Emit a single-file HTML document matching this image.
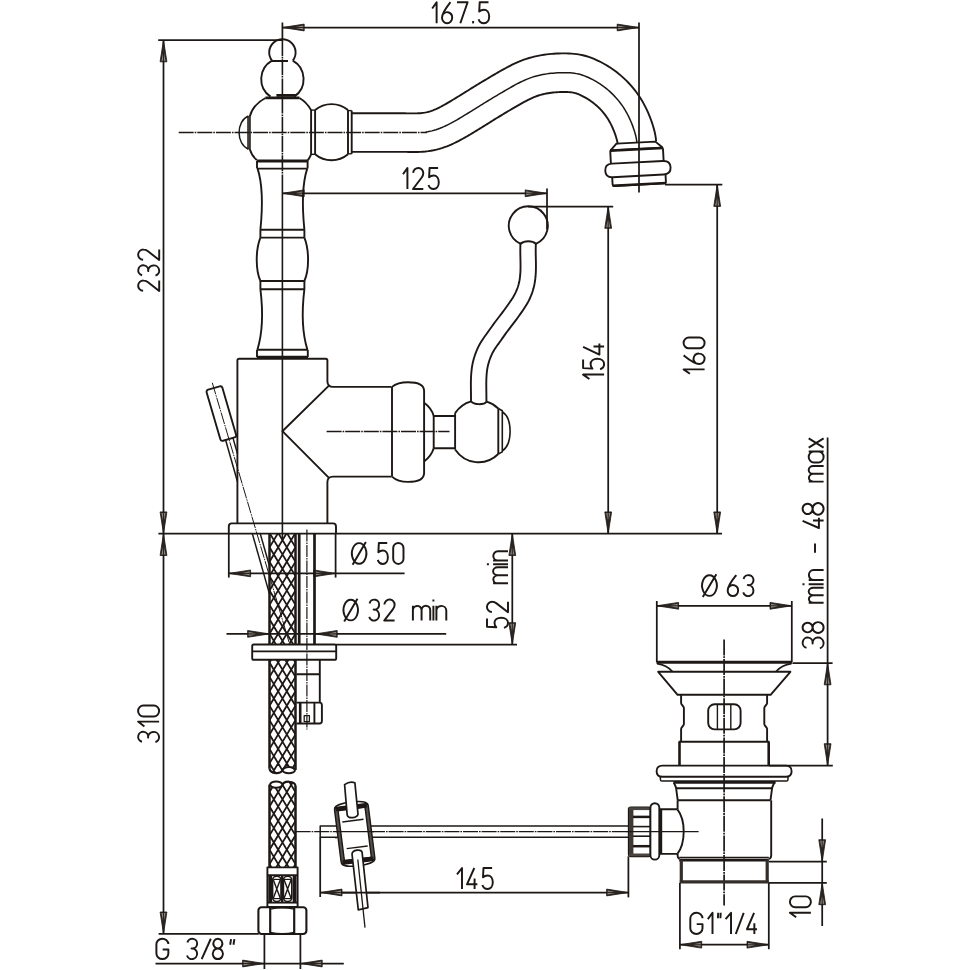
<!DOCTYPE html>
<html>
<head>
<meta charset="utf-8">
<title>Faucet dimensions</title>
<style>
html,body{margin:0;padding:0;background:#ffffff;}
body{width:970px;height:970px;overflow:hidden;font-family:"Liberation Sans",sans-serif;}
svg{display:block;}
</style>
</head>
<body>
<svg width="970" height="970" viewBox="0 0 970 970">
<rect x="0" y="0" width="970" height="970" fill="#ffffff"/>
<g fill="none" stroke="#1d1815" stroke-linecap="butt" stroke-linejoin="round">
<path d="M282.4,22.5 L282.4,40" stroke-width="1.75" />
<path d="M282.4,27.5 L639,27.5" stroke-width="1.75" />
<path d="M639,22.5 L639,192.5" stroke-width="1.75" />
<polygon points="282.4,27.5 304.2,24.1 304.2,30.9" fill="#2b2521" stroke="#1d1815" stroke-width="0.8" stroke-linejoin="miter"/>
<polygon points="303.2,29.54 303.2,28.04 295.92,28" fill="#8d8781" stroke="none"/>
<polygon points="303.2,25.46 303.2,26.96 295.92,27" fill="#8d8781" stroke="none"/>
<polygon points="639,27.5 617.2,30.9 617.2,24.1" fill="#2b2521" stroke="#1d1815" stroke-width="0.8" stroke-linejoin="miter"/>
<polygon points="618.2,25.46 618.2,26.96 625.48,27" fill="#8d8781" stroke="none"/>
<polygon points="618.2,29.54 618.2,28.04 625.48,28" fill="#8d8781" stroke="none"/>
<g stroke-width="1.95" stroke-linecap="butt"><path transform="translate(432.2,23.2) scale(0.92,1) translate(0,-21)" d="M0,6.3 L4.8,0 L4.8,21" vector-effect="non-scaling-stroke"/><path transform="translate(442,23.2) scale(0.97,1) translate(0,-21)" d="M8.7,0 C6,3.4 0,10.2 0,15.6 A5.25,5.4 0 0 0 10.5,15.6 A5.25,5.4 0 0 0 1.1,12.1" vector-effect="non-scaling-stroke"/><path transform="translate(457,23.2) scale(1.01,1) translate(0,-21)" d="M0,0 L10.5,0 L3.3,21" vector-effect="non-scaling-stroke"/><path transform="translate(472.2,23.2) scale(1,1) translate(0,-21)" d="M0.9,18.8 L0.9,21.2" vector-effect="non-scaling-stroke"/><path transform="translate(478.6,23.2) scale(1.01,1) translate(0,-21)" d="M9.8,0 L1.1,0 L0.6,9.3 C1.8,8.1 3.5,7.5 5.25,7.5 C8.3,7.5 10.5,10.3 10.5,14.3 C10.5,18.3 8.3,21 5.25,21 C2.8,21 0.8,19.6 0,17" vector-effect="non-scaling-stroke"/></g>
<path d="M158.2,40 L282.4,40" stroke-width="1.75" />
<path d="M163.5,40 L163.5,533.7" stroke-width="1.75" />
<polygon points="163.5,40 166.9,61.8 160.1,61.8" fill="#2b2521" stroke="#1d1815" stroke-width="0.8" stroke-linejoin="miter"/>
<polygon points="161.46,60.8 162.96,60.8 163,53.52" fill="#8d8781" stroke="none"/>
<polygon points="165.54,60.8 164.04,60.8 164,53.52" fill="#8d8781" stroke="none"/>
<polygon points="163.5,533.7 160.1,511.9 166.9,511.9" fill="#2b2521" stroke="#1d1815" stroke-width="0.8" stroke-linejoin="miter"/>
<polygon points="165.54,512.9 164.04,512.9 164,520.18" fill="#8d8781" stroke="none"/>
<polygon points="161.46,512.9 162.96,512.9 163,520.18" fill="#8d8781" stroke="none"/>
<g stroke-width="1.95" stroke-linecap="butt"><path transform="translate(159.2,291) rotate(-90) scale(1,1) translate(0,-21)" d="M0.2,4.9 A5.15,5.15 0 0 1 10.5,5.3 C10.5,7 9.9,8.2 8.9,9.5 L0,21 L10.5,21" vector-effect="non-scaling-stroke"/><path transform="translate(159.2,275.6) rotate(-90) scale(1,1) translate(0,-21)" d="M0.4,3.9 A5.0,5.0 0 1 1 4.6,10.0 L5.3,10.0 A5.25,5.5 0 1 1 0,17.3" vector-effect="non-scaling-stroke"/><path transform="translate(159.2,260) rotate(-90) scale(1,1) translate(0,-21)" d="M0.2,4.9 A5.15,5.15 0 0 1 10.5,5.3 C10.5,7 9.9,8.2 8.9,9.5 L0,21 L10.5,21" vector-effect="non-scaling-stroke"/></g>
<path d="M282.4,193.3 L547,193.3" stroke-width="1.75" />
<path d="M547,188.5 L547,229.5" stroke-width="1.75" />
<polygon points="282.4,193.3 304.2,189.9 304.2,196.7" fill="#2b2521" stroke="#1d1815" stroke-width="0.8" stroke-linejoin="miter"/>
<polygon points="303.2,195.34 303.2,193.84 295.92,193.8" fill="#8d8781" stroke="none"/>
<polygon points="303.2,191.26 303.2,192.76 295.92,192.8" fill="#8d8781" stroke="none"/>
<polygon points="547,193.3 525.2,196.7 525.2,189.9" fill="#2b2521" stroke="#1d1815" stroke-width="0.8" stroke-linejoin="miter"/>
<polygon points="526.2,191.26 526.2,192.76 533.48,192.8" fill="#8d8781" stroke="none"/>
<polygon points="526.2,195.34 526.2,193.84 533.48,193.8" fill="#8d8781" stroke="none"/>
<g stroke-width="1.95" stroke-linecap="butt"><path transform="translate(403,189) scale(0.92,1) translate(0,-21)" d="M0,6.3 L4.8,0 L4.8,21" vector-effect="non-scaling-stroke"/><path transform="translate(413,189) scale(0.98,1) translate(0,-21)" d="M0.2,4.9 A5.15,5.15 0 0 1 10.5,5.3 C10.5,7 9.9,8.2 8.9,9.5 L0,21 L10.5,21" vector-effect="non-scaling-stroke"/><path transform="translate(428.5,189) scale(0.98,1) translate(0,-21)" d="M9.8,0 L1.1,0 L0.6,9.3 C1.8,8.1 3.5,7.5 5.25,7.5 C8.3,7.5 10.5,10.3 10.5,14.3 C10.5,18.3 8.3,21 5.25,21 C2.8,21 0.8,19.6 0,17" vector-effect="non-scaling-stroke"/></g>
<path d="M528,206.5 L613.2,206.5" stroke-width="1.75" />
<path d="M608.2,206.5 L608.2,533.7" stroke-width="1.75" />
<polygon points="608.2,206.5 611.6,228.3 604.8,228.3" fill="#2b2521" stroke="#1d1815" stroke-width="0.8" stroke-linejoin="miter"/>
<polygon points="606.16,227.3 607.66,227.3 607.7,220.02" fill="#8d8781" stroke="none"/>
<polygon points="610.24,227.3 608.74,227.3 608.7,220.02" fill="#8d8781" stroke="none"/>
<polygon points="608.2,533.7 604.8,511.9 611.6,511.9" fill="#2b2521" stroke="#1d1815" stroke-width="0.8" stroke-linejoin="miter"/>
<polygon points="610.24,512.9 608.74,512.9 608.7,520.18" fill="#8d8781" stroke="none"/>
<polygon points="606.16,512.9 607.66,512.9 607.7,520.18" fill="#8d8781" stroke="none"/>
<g stroke-width="1.95" stroke-linecap="butt"><path transform="translate(604.1,379) rotate(-90) scale(0.92,1) translate(0,-21)" d="M0,6.3 L4.8,0 L4.8,21" vector-effect="non-scaling-stroke"/><path transform="translate(604.1,369.2) rotate(-90) scale(0.99,1) translate(0,-21)" d="M9.8,0 L1.1,0 L0.6,9.3 C1.8,8.1 3.5,7.5 5.25,7.5 C8.3,7.5 10.5,10.3 10.5,14.3 C10.5,18.3 8.3,21 5.25,21 C2.8,21 0.8,19.6 0,17" vector-effect="non-scaling-stroke"/><path transform="translate(604.1,354.6) rotate(-90) scale(1.02,1) translate(0,-21)" d="M7.6,0 L0,16.3 L10.8,16.3 M7.9,10.4 L7.9,21" vector-effect="non-scaling-stroke"/></g>
<path d="M665,184.6 L722.3,184.6" stroke-width="1.75" />
<path d="M717.2,184.6 L717.2,533.7" stroke-width="1.75" />
<polygon points="717.2,184.6 720.6,206.4 713.8,206.4" fill="#2b2521" stroke="#1d1815" stroke-width="0.8" stroke-linejoin="miter"/>
<polygon points="715.16,205.4 716.66,205.4 716.7,198.12" fill="#8d8781" stroke="none"/>
<polygon points="719.24,205.4 717.74,205.4 717.7,198.12" fill="#8d8781" stroke="none"/>
<polygon points="717.2,533.7 713.8,511.9 720.6,511.9" fill="#2b2521" stroke="#1d1815" stroke-width="0.8" stroke-linejoin="miter"/>
<polygon points="719.24,512.9 717.74,512.9 717.7,520.18" fill="#8d8781" stroke="none"/>
<polygon points="715.16,512.9 716.66,512.9 716.7,520.18" fill="#8d8781" stroke="none"/>
<g stroke-width="1.95" stroke-linecap="butt"><path transform="translate(704.6,373.8) rotate(-90) scale(0.92,1) translate(0,-21)" d="M0,6.3 L4.8,0 L4.8,21" vector-effect="non-scaling-stroke"/><path transform="translate(704.6,364) rotate(-90) scale(0.99,1) translate(0,-21)" d="M8.7,0 C6,3.4 0,10.2 0,15.6 A5.25,5.4 0 0 0 10.5,15.6 A5.25,5.4 0 0 0 1.1,12.1" vector-effect="non-scaling-stroke"/><path transform="translate(704.6,348.3) rotate(-90) scale(1.03,1) translate(0,-21)" d="M0,5.25 A5.25,5.25 0 0 1 10.5,5.25 L10.5,15.75 A5.25,5.25 0 0 1 0,15.75 Z" vector-effect="non-scaling-stroke"/></g>
<path d="M158.4,533.7 L722,533.7" stroke-width="1.75" />
<path d="M272,60.6 A13.2,13.2 0 1 1 292.8,60.6" stroke-width="1.9" />
<path d="M272,61 L288,61" stroke-width="2" />
<path d="M272,60.6 A21.2,21.2 0 0 0 270.5,96.6" stroke-width="1.9" />
<path d="M292.8,60.6 A21.2,21.2 0 0 1 294.3,96.6" stroke-width="1.9" />
<path d="M265.4,97.9 L299.5,97.9" stroke-width="2.6" />
<path d="M276.4,95.4 L296,95.4" stroke-width="2.8" />
<path d="M265.5,98 C258,102 252,108 249.8,116.5 L249.8,149.2 C251,153 253,157 256.8,160" stroke-width="1.9" />
<path d="M299.4,98 C304,100.6 308,104.6 311.1,110.1 L311.1,154.3 C310,157 309,158.8 307.6,160.6" stroke-width="1.9" />
<path d="M248.4,116 L248.4,149.2" stroke-width="2.6" stroke="#45403c"/>
<path d="M248.4,116 C236,121 236,144 248.4,149.2" stroke-width="1.5" />
<path d="M178.7,132.5 L427,132.5" stroke-width="1.5" stroke-dasharray="15 1 1.6 1"/>
<path d="M315.1,110.1 L315.1,154.3" stroke-width="1.9" />
<path d="M311.1,110.1 L315.1,110.1" stroke-width="1.4" />
<path d="M311.1,154.3 L315.1,154.3" stroke-width="1.4" />
<path d="M315.1,110.1 A25.5,25.5 0 0 1 348,110.1" stroke-width="1.9" />
<path d="M315.1,154.3 A25.5,25.5 0 0 0 348,154.3" stroke-width="1.9" />
<path d="M348,110.1 L348,154.3" stroke-width="1.9" />
<path d="M351.7,110.6 L351.7,153.8" stroke-width="1.9" />
<path d="M348,110.6 L351.7,110.6" stroke-width="1.4" />
<path d="M348,153.8 L351.7,153.8" stroke-width="1.4" />
<path d="M351.6,113.3 L353.73,113.3 L355.85,113.3 L357.97,113.3 L360.09,113.31 L362.21,113.31 L364.32,113.31 L366.43,113.31 L368.54,113.32 L370.65,113.32 L372.75,113.31 L374.85,113.31 L376.95,113.31 L379.05,113.3 L381.15,113.3 L383.25,113.29 L385.36,113.27 L387.48,113.26 L389.61,113.25 L391.75,113.25 L393.9,113.24 L396.05,113.24 L398.22,113.24 L400.39,113.25 L402.57,113.27 L404.76,113.3 L406.93,113.33 L409.03,113.36 L411.06,113.39 L413.01,113.4 L414.88,113.39 L416.68,113.36 L418.4,113.29 L420.05,113.19 L421.63,113.06 L423.15,112.88 L424.61,112.67 L425.99,112.41 L427.31,112.12 L428.67,111.76 L430.07,111.34 L431.51,110.85 L432.98,110.3 L434.5,109.69 L436.03,109.03 L437.58,108.32 L439.15,107.56 L440.74,106.76 L442.34,105.91 L443.97,105.02 L445.62,104.1 L447.29,103.13 L448.99,102.13 L450.73,101.1 L452.49,100.04 L454.26,98.97 L456.03,97.89 L457.8,96.81 L459.57,95.72 L461.34,94.63 L463.11,93.53 L464.89,92.42 L466.68,91.31 L468.48,90.19 L470.29,89.06 L472.11,87.93 L473.94,86.8 L475.77,85.67 L477.61,84.55 L479.45,83.42 L481.3,82.3 L483.15,81.18 L485,80.07 L486.85,78.96 L488.7,77.87 L490.54,76.77 L492.38,75.68 L494.25,74.58 L496.14,73.48 L498.04,72.37 L499.97,71.27 L501.92,70.17 L503.9,69.07 L505.9,67.98 L507.94,66.89 L510.04,65.8 L512.19,64.72 L514.4,63.65 L516.68,62.61 L519.01,61.59 L521.42,60.62 L523.89,59.69 L526.44,58.81 L529,58.01 L531.56,57.3 L534.1,56.66 L536.63,56.1 L539.14,55.59 L541.63,55.15 L544.11,54.77 L546.57,54.43 L549.03,54.15 L551.49,53.91 L553.93,53.71 L556.37,53.56 L558.81,53.45 L561.28,53.38 L563.78,53.36 L566.3,53.38 L568.85,53.47 L571.44,53.61 L574.13,53.84 L576.91,54.16 L579.8,54.61 L582.77,55.21 L585.81,55.98 L588.74,56.89 L591.5,57.89 L594.09,58.94 L596.53,60.02 L598.85,61.12 L601.15,62.27 L603.43,63.49 L605.7,64.76 L607.93,66.1 L610.15,67.5 L612.33,68.97 L614.48,70.49 L616.58,72.07 L618.63,73.69 L620.63,75.37 L622.59,77.09 L624.5,78.85 L626.36,80.66 L628.18,82.51 L629.95,84.41 L631.68,86.36 L633.37,88.37 L635.01,90.42 L636.61,92.53 L638.15,94.69 L639.63,96.89 L641.04,99.12 L642.37,101.36 L643.65,103.62 L644.85,105.88 L646,108.16 L647.09,110.44 L648.12,112.73 L649.11,115.04 L650.05,117.38 L650.95,119.73 L651.79,122.1 L652.58,124.49 L653.34,126.93 L654.06,129.51 L654.74,132.24 L655.33,135.12 L655.81,138.16 L656.15,141.35" stroke-width="1.9" />
<path d="M351.6,151.9 L353.71,151.9 L355.82,151.9 L357.93,151.9 L360.04,151.91 L362.16,151.91 L364.28,151.91 L366.4,151.91 L368.52,151.92 L370.65,151.92 L372.78,151.91 L374.91,151.91 L377.04,151.91 L379.17,151.9 L381.31,151.89 L383.44,151.89 L385.56,151.87 L387.67,151.86 L389.77,151.85 L391.87,151.85 L393.95,151.84 L396.03,151.84 L398.1,151.84 L400.16,151.85 L402.21,151.87 L404.26,151.89 L406.32,151.92 L408.45,151.96 L410.66,151.98 L412.94,152 L415.3,151.99 L417.74,151.94 L420.25,151.85 L422.83,151.69 L425.47,151.47 L428.16,151.16 L430.89,150.75 L433.68,150.24 L436.48,149.61 L439.22,148.89 L441.88,148.08 L444.45,147.21 L446.95,146.28 L449.36,145.31 L451.72,144.29 L454.02,143.24 L456.26,142.16 L458.46,141.05 L460.6,139.92 L462.69,138.78 L464.73,137.63 L466.72,136.49 L468.67,135.34 L470.57,134.21 L472.44,133.08 L474.29,131.96 L476.14,130.84 L477.98,129.71 L479.81,128.58 L481.64,127.45 L483.46,126.32 L485.28,125.2 L487.08,124.08 L488.88,122.96 L490.66,121.85 L492.44,120.75 L494.21,119.65 L495.98,118.56 L497.75,117.47 L499.52,116.39 L501.29,115.32 L503.06,114.25 L504.84,113.18 L506.62,112.11 L508.42,111.05 L510.22,109.98 L512.01,108.92 L513.79,107.87 L515.56,106.84 L517.31,105.82 L519.05,104.82 L520.79,103.84 L522.52,102.88 L524.24,101.95 L525.94,101.04 L527.61,100.17 L529.25,99.35 L530.86,98.57 L532.44,97.85 L533.98,97.17 L535.5,96.56 L536.98,96 L538.44,95.5 L539.92,95.04 L541.44,94.61 L543.01,94.22 L544.62,93.86 L546.26,93.53 L547.95,93.23 L549.66,92.97 L551.4,92.73 L553.14,92.53 L554.9,92.36 L556.67,92.21 L558.46,92.1 L560.24,92.02 L562.01,91.97 L563.74,91.96 L565.45,91.97 L567.14,92.03 L568.79,92.12 L570.33,92.25 L571.76,92.42 L573.07,92.62 L574.25,92.86 L575.3,93.12 L576.41,93.47 L577.64,93.91 L578.98,94.46 L580.42,95.1 L581.93,95.81 L583.42,96.56 L584.88,97.34 L586.31,98.14 L587.71,98.98 L589.07,99.84 L590.4,100.73 L591.71,101.66 L593,102.63 L594.27,103.64 L595.52,104.68 L596.75,105.76 L597.95,106.87 L599.13,108.02 L600.29,109.2 L601.41,110.4 L602.49,111.62 L603.53,112.85 L604.53,114.11 L605.49,115.38 L606.41,116.67 L607.3,117.98 L608.15,119.34 L608.99,120.73 L609.8,122.17 L610.58,123.64 L611.34,125.15 L612.08,126.7 L612.79,128.26 L613.46,129.84 L614.1,131.43 L614.71,133.04 L615.29,134.66 L615.83,136.29 L616.33,137.91 L616.76,139.42 L617.1,140.82 L617.37,142.09 L617.55,143.23 L617.65,144.25" stroke-width="1.9" />
<path d="M425.65,132.02 L427.75,131.71 L429.83,131.33 L431.9,130.87 L433.94,130.32 L435.97,129.71 L437.98,129.03 L439.97,128.29 L441.93,127.5 L443.88,126.66 L445.8,125.78 L447.71,124.86 L449.6,123.9 L451.47,122.92 L453.33,121.9 L455.17,120.87 L457.01,119.81 L458.83,118.74 L460.65,117.65 L462.46,116.56 L464.27,115.46 L466.08,114.36 L467.89,113.26 L469.69,112.15 L471.49,111.04 L473.29,109.93 L475.09,108.81 L476.88,107.69 L478.68,106.57 L480.48,105.45 L482.28,104.34 L484.08,103.23 L485.88,102.12 L487.68,101.01 L489.49,99.91 L491.3,98.81 L493.11,97.71 L494.92,96.62 L496.74,95.54 L498.56,94.46 L500.38,93.38 L502.2,92.3 L504.02,91.23 L505.85,90.16 L507.68,89.1 L509.51,88.05 L511.36,87.01 L513.21,85.98 L515.07,84.96 L516.94,83.96 L518.82,82.99 L520.72,82.03 L522.63,81.11 L524.56,80.23 L526.5,79.38 L528.46,78.59 L530.44,77.84 L532.44,77.15 L534.46,76.53 L536.5,75.96 L538.55,75.44 L540.62,74.98 L542.7,74.56 L544.79,74.19 L546.88,73.87 L548.98,73.58 L551.09,73.34 L553.19,73.13 L555.3,72.96 L557.42,72.83 L559.53,72.73 L561.64,72.67 L563.76,72.66 L565.88,72.68 L567.99,72.75 L570.11,72.87 L572.23,73.05 L574.34,73.29 L576.43,73.62 L578.51,74.03 L580.56,74.55 L582.58,75.18 L584.57,75.9 L586.53,76.7 L588.47,77.56 L590.39,78.46 L592.29,79.42 L594.16,80.41 L596,81.45 L597.82,82.54 L599.61,83.67 L601.37,84.85 L603.09,86.08 L604.79,87.35 L606.45,88.67 L608.07,90.02 L609.67,91.42 L611.23,92.86 L612.75,94.34 L614.23,95.86 L615.68,97.41 L617.09,98.99 L618.45,100.61 L619.77,102.27 L621.05,103.96 L622.28,105.68 L623.46,107.44 L624.59,109.23 L625.68,111.05 L626.72,112.89 L627.72,114.76 L628.67,116.65 L629.58,118.57 L630.46,120.5 L631.29,122.44 L632.08,124.4 L632.83,126.38 L633.54,128.38 L634.21,130.39 L634.83,132.42 L635.41,134.47 L635.92,136.53 L636.35,138.61 L636.68,140.7 L636.9,142.8" stroke-width="1.5" />
<g transform="rotate(-3 637.5 165)">
<path d="M611.4,148.9 L617.6,142.6 L656.6,142.6 L663.4,148.9" stroke-width="1.9" />
<path d="M611,162.4 L611,150.4 Q611,148.9 612.6,148.9 L662.2,148.9 Q663.8,148.9 663.8,150.4 L663.8,162.4" stroke-width="1.9" />
<path d="M611,149.3 L663.8,149.3" stroke-width="2.6" />
<path d="M612,162.3 L663,162.3 Q670.4,162.3 670.4,169 Q670.4,175.9 663,175.9 L612,175.9 Q605,175.9 605,169 Q605,162.3 612,162.3 Z" stroke-width="1.9" />
<path d="M611.6,175.9 L611.6,183.2 Q611.6,184.8 613.2,184.8 L663.4,184.8 Q665,184.8 665,183.2 L665,175.9" stroke-width="1.9" />
<path d="M611.6,184.4 L665,184.4" stroke-width="2.6" />
</g>
<path d="M256.8,161 L307.8,161" stroke-width="2.8" />
<path d="M257,161 L257,168.6 M307.6,161 L307.6,168.6" stroke-width="1.9" />
<path d="M257,168.6 L307.6,168.6" stroke-width="1.9" />
<path d="M257.6,168.6 C262.9,185 262.9,205 260.4,229.8" stroke-width="1.9" />
<path d="M260.4,229.8 L260.4,237.6" stroke-width="1.9" />
<path d="M260.4,237.6 C255.5,250 255.5,270 260.4,281" stroke-width="1.9" />
<path d="M260.4,281 L260.4,289.2" stroke-width="1.9" />
<path d="M260.4,289.2 C263.2,312 262.9,332 257.4,349.8" stroke-width="1.9" />
<path d="M257,349.8 L257,357" stroke-width="1.9" />
<path d="M307.2,168.6 C301.9,185 301.9,205 304.4,229.8" stroke-width="1.9" />
<path d="M304.4,229.8 L304.4,237.6" stroke-width="1.9" />
<path d="M304.4,237.6 C309.3,250 309.3,270 304.4,281" stroke-width="1.9" />
<path d="M304.4,281 L304.4,289.2" stroke-width="1.9" />
<path d="M304.4,289.2 C301.6,312 301.9,332 307.4,349.8" stroke-width="1.9" />
<path d="M307.8,349.8 L307.8,357" stroke-width="1.9" />
<path d="M260.4,229.8 L304.4,229.8" stroke-width="1.9" />
<path d="M260.4,237.6 L304.4,237.6" stroke-width="1.9" />
<path d="M260.4,281 L304.4,281" stroke-width="1.9" />
<path d="M260.4,289.2 L304.4,289.2" stroke-width="1.9" />
<path d="M257,349.8 L307.8,349.8" stroke-width="1.9" />
<path d="M256.8,357.2 L308,357.2" stroke-width="2.8" />
<path d="M282.4,40 L282.4,190" stroke-width="1.6" stroke-dasharray="16 0.8 1.6 0.8"/>
<path d="M282.4,190 L282.4,540" stroke-width="1.6" />
<path d="M237.4,523.4 L237.4,360.6 Q237.4,358.8 239.2,358.8 L325.6,358.8 Q327.4,358.8 327.4,360.6 L327.4,381.5 Q327.6,386.9 333,386.9 L391.6,386.9" stroke-width="1.9" />
<path d="M391.6,476.6 L333,476.6 Q327.6,476.6 327.4,482 L327.4,523.4" stroke-width="1.9" />
<path d="M329.2,385.4 L282.4,431.2 L329.2,478.2" stroke-width="1.9" />
<path d="M326.6,431.5 L449.5,431.5" stroke-width="1.5" stroke-dasharray="15 1 1.6 1"/>
<path d="M228.8,533.7 L228.8,526.4 Q228.8,523.4 231.8,523.4 L333,523.4 Q336,523.4 336,526.4 L336,533.7" stroke-width="1.9" />
<path d="M392,386.9 L392,476.6" stroke-width="1.9" />
<path d="M392,386.9 C396,383.5 402,382.3 408,382.3 C417,382.3 424.1,384.6 424.1,391 L424.1,473 C424.1,479.4 417,481.9 408,481.9 C402,481.9 396,480.4 392,476.6" stroke-width="1.9" />
<path d="M424.1,402.8 C428.6,406 432.2,410.6 433.7,416 M424.1,461.4 C428.6,458 432.2,453.4 433.7,448.2" stroke-width="1.9" />
<path d="M433.7,416 L455.1,416 M433.7,448.2 L455.1,448.2 M433.7,416 L433.7,448.2" stroke-width="1.9" />
<path d="M455.1,413.14 A29,31 0 0 1 471,401.38" stroke-width="1.9" />
<path d="M486.8,401.57 A29,31 0 0 1 498.3,408.55" stroke-width="1.9" />
<path d="M498.3,454.05 A29,31 0 0 1 455.1,449.46" stroke-width="1.9" />
<path d="M455.1,413.14 L455.1,449.46" stroke-width="1.9" />
<path d="M498.3,408.55 L498.3,454.05" stroke-width="1.9" />
<path d="M498.3,408.55 L502.3,410.75 L502.3,451.85 L498.3,454.05" stroke-width="1.6" />
<path d="M502.3,411.75 C512.7,418.55 512.7,444.05 502.3,450.85" stroke-width="1.6" />
<path d="M471,401.38 C474,404.98 483.8,405.17 486.8,401.57" stroke-width="1.9" />
<path d="M535.89,243.47 L535.79,245.47 L535.73,247.5 L535.7,249.56 L535.71,251.64 L535.73,253.75 L535.77,255.89 L535.82,258.06 L535.87,260.25 L535.91,262.47 L535.93,264.72 L535.94,266.99 L535.91,269.28 L535.84,271.6 L535.72,273.95 L535.54,276.32 L535.3,278.7 L534.98,281.11 L534.58,283.52 L534.09,285.94 L533.49,288.36 L532.81,290.75 L532.02,293.11 L531.14,295.44 L530.18,297.74 L529.12,299.99 L527.97,302.18 L526.77,304.3 L525.53,306.34 L524.26,308.32 L522.97,310.24 L521.67,312.1 L520.39,313.92 L519.1,315.73 L517.81,317.53 L516.49,319.32 L515.17,321.12 L513.82,322.9 L512.47,324.67 L511.13,326.41 L509.81,328.13 L508.51,329.82 L507.24,331.5 L506.01,333.17 L504.79,334.88 L503.55,336.62 L502.31,338.4 L501.03,340.2 L499.73,342.03 L498.42,343.83 L497.17,345.55 L495.99,347.21 L494.9,348.83 L493.91,350.41 L493.01,352.01 L492.16,353.68 L491.36,355.4 L490.61,357.17 L489.92,358.98 L489.28,360.81 L488.71,362.64 L488.2,364.48 L487.77,366.32 L487.41,368.17 L487.1,370.07 L486.86,372 L486.66,373.97 L486.52,375.97 L486.41,377.99 L486.34,380.04 L486.3,382.11 L486.28,384.2 L486.29,386.32 L486.31,388.45 L486.33,390.61 L486.37,392.78 L486.39,394.98 L486.41,397.2 L486.42,399.45 L486.4,401.71" stroke-width="1.9" />
<path d="M520.51,242.53 L520.4,244.87 L520.33,247.19 L520.3,249.49 L520.31,251.76 L520.33,254 L520.38,256.21 L520.42,258.41 L520.47,260.57 L520.51,262.71 L520.53,264.82 L520.54,266.91 L520.51,268.96 L520.45,270.99 L520.35,272.99 L520.2,274.97 L520,276.92 L519.75,278.84 L519.43,280.72 L519.06,282.58 L518.61,284.39 L518.09,286.2 L517.5,287.98 L516.84,289.73 L516.11,291.46 L515.32,293.15 L514.45,294.81 L513.5,296.48 L512.48,298.16 L511.4,299.85 L510.25,301.55 L509.06,303.27 L507.83,305.01 L506.59,306.75 L505.34,308.49 L504.08,310.21 L502.82,311.91 L501.55,313.6 L500.26,315.29 L498.94,317 L497.61,318.73 L496.26,320.49 L494.9,322.29 L493.55,324.12 L492.24,325.95 L490.96,327.76 L489.71,329.54 L488.47,331.3 L487.24,333.01 L485.98,334.75 L484.67,336.55 L483.33,338.44 L481.99,340.43 L480.68,342.54 L479.44,344.73 L478.31,346.94 L477.27,349.18 L476.33,351.43 L475.46,353.68 L474.66,355.98 L473.93,358.3 L473.28,360.67 L472.72,363.07 L472.24,365.48 L471.86,367.89 L471.56,370.28 L471.32,372.65 L471.15,375 L471.02,377.32 L470.94,379.63 L470.9,381.91 L470.88,384.17 L470.89,386.41 L470.91,388.63 L470.94,390.83 L470.97,393 L471,395.16 L471.01,397.29 L471.02,399.4 L471,401.49" stroke-width="1.9" />
<path d="M520.7,243.76 A19.5,19.5 0 1 1 535.9,243.76" stroke-width="1.9" />
<path d="M520.7,243.76 C524.3,240.36 532.3,240.36 535.9,243.76" stroke-width="1.9" />
<g transform="translate(213.9,388) rotate(-16.3)">
<rect x="-8.2" y="0" width="16.4" height="53.2" rx="2.2" ry="2.2" stroke-width="1.9"/>
</g>
<path d="M225.4,439.3 L237.5,481.8" stroke-width="1.5" />
<path d="M232.8,437.4 L237.5,453.9" stroke-width="1.5" />
<path d="M252.4,533.9 L269.6,594.4" stroke-width="1.5" />
<path d="M260.3,533.9 L269.6,566.5" stroke-width="1.5" />
<path d="M212.3,382.8 L289,642" stroke-width="1" stroke-dasharray="12 1 1.5 1"/>
<path d="M228.8,533.7 L228.8,577.6" stroke-width="1.75" />
<path d="M335.6,533.7 L335.6,577.6" stroke-width="1.75" />
<path d="M228.8,573.4 L404.6,573.4" stroke-width="1.75" />
<polygon points="228.8,573.4 250.6,570 250.6,576.8" fill="#2b2521" stroke="#1d1815" stroke-width="0.8" stroke-linejoin="miter"/>
<polygon points="249.6,575.44 249.6,573.94 242.32,573.9" fill="#8d8781" stroke="none"/>
<polygon points="249.6,571.36 249.6,572.86 242.32,572.9" fill="#8d8781" stroke="none"/>
<polygon points="335.6,573.4 313.8,576.8 313.8,570" fill="#2b2521" stroke="#1d1815" stroke-width="0.8" stroke-linejoin="miter"/>
<polygon points="314.8,571.36 314.8,572.86 322.08,572.9" fill="#8d8781" stroke="none"/>
<polygon points="314.8,575.44 314.8,573.94 322.08,573.9" fill="#8d8781" stroke="none"/>
<g stroke-width="1.95" stroke-linecap="butt"><path transform="translate(351.8,563.9) scale(0.99,1) translate(0,-21)" d="M7.4,0.2 A7.3,10.3 0 1 1 7.39,0.2 Z M0.8,21.8 L14.2,-0.8" vector-effect="non-scaling-stroke"/><path transform="translate(377.8,563.9) scale(0.96,1) translate(0,-21)" d="M9.8,0 L1.1,0 L0.6,9.3 C1.8,8.1 3.5,7.5 5.25,7.5 C8.3,7.5 10.5,10.3 10.5,14.3 C10.5,18.3 8.3,21 5.25,21 C2.8,21 0.8,19.6 0,17" vector-effect="non-scaling-stroke"/><path transform="translate(393.2,563.9) scale(0.98,1) translate(0,-21)" d="M0,5.25 A5.25,5.25 0 0 1 10.5,5.25 L10.5,15.75 A5.25,5.25 0 0 1 0,15.75 Z" vector-effect="non-scaling-stroke"/></g>
<path d="M226.5,633.9 L446.2,633.9" stroke-width="1.75" />
<polygon points="269.4,633.9 247.6,637.3 247.6,630.5" fill="#2b2521" stroke="#1d1815" stroke-width="0.8" stroke-linejoin="miter"/>
<polygon points="248.6,631.86 248.6,633.36 255.88,633.4" fill="#8d8781" stroke="none"/>
<polygon points="248.6,635.94 248.6,634.44 255.88,634.4" fill="#8d8781" stroke="none"/>
<polygon points="315.4,633.9 337.2,630.5 337.2,637.3" fill="#2b2521" stroke="#1d1815" stroke-width="0.8" stroke-linejoin="miter"/>
<polygon points="336.2,635.94 336.2,634.44 328.92,634.4" fill="#8d8781" stroke="none"/>
<polygon points="336.2,631.86 336.2,633.36 328.92,633.4" fill="#8d8781" stroke="none"/>
<g stroke-width="1.95" stroke-linecap="butt"><path transform="translate(343.4,620.6) scale(0.99,1) translate(0,-21)" d="M7.4,0.2 A7.3,10.3 0 1 1 7.39,0.2 Z M0.8,21.8 L14.2,-0.8" vector-effect="non-scaling-stroke"/><path transform="translate(369.2,620.6) scale(0.97,1) translate(0,-21)" d="M0.4,3.9 A5.0,5.0 0 1 1 4.6,10.0 L5.3,10.0 A5.25,5.5 0 1 1 0,17.3" vector-effect="non-scaling-stroke"/><path transform="translate(384.2,620.6) scale(0.99,1) translate(0,-21)" d="M0.2,4.9 A5.15,5.15 0 0 1 10.5,5.3 C10.5,7 9.9,8.2 8.9,9.5 L0,21 L10.5,21" vector-effect="non-scaling-stroke"/><path transform="translate(412.9,620.6) scale(1.07,1) translate(0,-21)" d="M0,6.1 L0,21 M0,11 A4.05,4.5 0 0 1 8.1,10.6 L8.1,21 M8.1,10.6 A4.05,4.5 0 0 1 16.2,10.6 L16.2,21" vector-effect="non-scaling-stroke"/><path transform="translate(432.5,620.6) scale(1,1) translate(0,-21)" d="M0.9,6.1 L0.9,21 M0.9,-0.1 L0.9,1.9" vector-effect="non-scaling-stroke"/><path transform="translate(436.4,620.6) scale(1.03,1) translate(0,-21)" d="M0,6.1 L0,21 M0,11.3 A4.8,4.8 0 0 1 9.6,10.9 L9.6,21" vector-effect="non-scaling-stroke"/></g>
<path d="M336,644.5 L517,644.5" stroke-width="1.75" />
<path d="M512.3,533.7 L512.3,644.5" stroke-width="1.75" />
<polygon points="512.3,533.7 515.7,555.5 508.9,555.5" fill="#2b2521" stroke="#1d1815" stroke-width="0.8" stroke-linejoin="miter"/>
<polygon points="510.26,554.5 511.76,554.5 511.8,547.22" fill="#8d8781" stroke="none"/>
<polygon points="514.34,554.5 512.84,554.5 512.8,547.22" fill="#8d8781" stroke="none"/>
<polygon points="512.3,644.5 508.9,622.7 515.7,622.7" fill="#2b2521" stroke="#1d1815" stroke-width="0.8" stroke-linejoin="miter"/>
<polygon points="514.34,623.7 512.84,623.7 512.8,630.98" fill="#8d8781" stroke="none"/>
<polygon points="510.26,623.7 511.76,623.7 511.8,630.98" fill="#8d8781" stroke="none"/>
<g stroke-width="1.95" stroke-linecap="butt"><path transform="translate(508,627.9) rotate(-90) scale(0.97,1) translate(0,-21)" d="M9.8,0 L1.1,0 L0.6,9.3 C1.8,8.1 3.5,7.5 5.25,7.5 C8.3,7.5 10.5,10.3 10.5,14.3 C10.5,18.3 8.3,21 5.25,21 C2.8,21 0.8,19.6 0,17" vector-effect="non-scaling-stroke"/><path transform="translate(508,612.2) rotate(-90) scale(0.99,1) translate(0,-21)" d="M0.2,4.9 A5.15,5.15 0 0 1 10.5,5.3 C10.5,7 9.9,8.2 8.9,9.5 L0,21 L10.5,21" vector-effect="non-scaling-stroke"/><path transform="translate(508,583.3) rotate(-90) scale(0.99,1) translate(0,-21)" d="M0,6.1 L0,21 M0,11 A4.05,4.5 0 0 1 8.1,10.6 L8.1,21 M8.1,10.6 A4.05,4.5 0 0 1 16.2,10.6 L16.2,21" vector-effect="non-scaling-stroke"/><path transform="translate(508,565.1) rotate(-90) scale(1,1) translate(0,-21)" d="M0.9,6.1 L0.9,21 M0.9,-0.1 L0.9,1.9" vector-effect="non-scaling-stroke"/><path transform="translate(508,560.6) rotate(-90) scale(0.98,1) translate(0,-21)" d="M0,6.1 L0,21 M0,11.3 A4.8,4.8 0 0 1 9.6,10.9 L9.6,21" vector-effect="non-scaling-stroke"/></g>
<clipPath id="b1"><path d="M269.5,533.7 L295.5,533.7 L295.5,644.5 L269.5,644.5 Z"/></clipPath>
<path clip-path="url(#b1)" d="M269.5,489.7 L295.5,532.9 M295.5,489.7 L269.5,532.9 M269.5,504.1 L295.5,547.3 M295.5,504.1 L269.5,547.3 M269.5,518.5 L295.5,561.7 M295.5,518.5 L269.5,561.7 M269.5,532.9 L295.5,576.1 M295.5,532.9 L269.5,576.1 M269.5,547.3 L295.5,590.5 M295.5,547.3 L269.5,590.5 M269.5,561.7 L295.5,604.9 M295.5,561.7 L269.5,604.9 M269.5,576.1 L295.5,619.3 M295.5,576.1 L269.5,619.3 M269.5,590.5 L295.5,633.7 M295.5,590.5 L269.5,633.7 M269.5,604.9 L295.5,648.1 M295.5,604.9 L269.5,648.1 M269.5,619.3 L295.5,662.5 M295.5,619.3 L269.5,662.5 M269.5,633.7 L295.5,676.9 M295.5,633.7 L269.5,676.9 M269.5,648.1 L295.5,691.3 M295.5,648.1 L269.5,691.3" stroke-width="1.8"/>
<clipPath id="b2"><path d="M269.5,659.8 L295.5,659.8 L295.5,769.4 L282.5,769.6 C282,774.4 270,774.4 269.5,768.4 Z"/></clipPath>
<path clip-path="url(#b2)" d="M269.5,619.3 L295.5,662.5 M295.5,619.3 L269.5,662.5 M269.5,633.7 L295.5,676.9 M295.5,633.7 L269.5,676.9 M269.5,648.1 L295.5,691.3 M295.5,648.1 L269.5,691.3 M269.5,662.5 L295.5,705.7 M295.5,662.5 L269.5,705.7 M269.5,676.9 L295.5,720.1 M295.5,676.9 L269.5,720.1 M269.5,691.3 L295.5,734.5 M295.5,691.3 L269.5,734.5 M269.5,705.7 L295.5,748.9 M295.5,705.7 L269.5,748.9 M269.5,720.1 L295.5,763.3 M295.5,720.1 L269.5,763.3 M269.5,734.5 L295.5,777.7 M295.5,734.5 L269.5,777.7 M269.5,748.9 L295.5,792.1 M295.5,748.9 L269.5,792.1 M269.5,763.3 L295.5,806.5 M295.5,763.3 L269.5,806.5 M269.5,777.7 L295.5,820.9 M295.5,777.7 L269.5,820.9" stroke-width="1.8"/>
<clipPath id="b3"><path d="M269.5,867.5 L269.5,785 L282.5,785.4 C283,780.4 295,780.4 295.5,786 L295.5,867.5 Z"/></clipPath>
<path clip-path="url(#b3)" d="M269.5,734.5 L295.5,777.7 M295.5,734.5 L269.5,777.7 M269.5,748.9 L295.5,792.1 M295.5,748.9 L269.5,792.1 M269.5,763.3 L295.5,806.5 M295.5,763.3 L269.5,806.5 M269.5,777.7 L295.5,820.9 M295.5,777.7 L269.5,820.9 M269.5,792.1 L295.5,835.3 M295.5,792.1 L269.5,835.3 M269.5,806.5 L295.5,849.7 M295.5,806.5 L269.5,849.7 M269.5,820.9 L295.5,864.1 M295.5,820.9 L269.5,864.1 M269.5,835.3 L295.5,878.5 M295.5,835.3 L269.5,878.5 M269.5,849.7 L295.5,892.9 M295.5,849.7 L269.5,892.9 M269.5,864.1 L295.5,907.3 M295.5,864.1 L269.5,907.3" stroke-width="1.8"/>
<path d="M269.5,533.7 L269.5,644.5" stroke-width="2.5" />
<path d="M295.5,533.7 L295.5,644.5" stroke-width="2.5" />
<path d="M269.5,659.8 L269.5,768.6" stroke-width="2.5" />
<path d="M295.5,659.8 L295.5,770" stroke-width="2.5" />
<path d="M269.5,784.6 L269.5,867.5" stroke-width="2.5" />
<path d="M295.5,786 L295.5,867.5" stroke-width="2.5" />
<path d="M269.5,768.4 C270,774.4 282,774.4 282.5,769.6" stroke-width="2.2" />
<ellipse cx="288.8" cy="770.2" rx="6.1" ry="3.1" fill="#fff" stroke-width="2"/>
<path d="M282.5,785.4 C283,780.4 295,780.4 295.5,786" stroke-width="2.2" />
<ellipse cx="276.2" cy="784.6" rx="6.1" ry="3.1" fill="#fff" stroke-width="2"/>
<path d="M299.2,533.7 L299.2,644.5" stroke-width="2.7" />
<path d="M314.5,533.7 L314.5,644.5" stroke-width="2.7" />
<path d="M306.9,529.4 L306.9,729.4" stroke-width="1.2" stroke-dasharray="12 1 1.5 1"/>
<rect x="252.2" y="644.5" width="84" height="15.3" rx="1.6" fill="none" stroke-width="1.9"/>
<path d="M252.2,651.4 L336.2,651.4" stroke-width="1.9" />
<path d="M319.8,659.8 L319.8,702.6 M296.4,674.3 L319.8,674.3" stroke-width="1.9" />
<path d="M296.4,702.6 L319.4,702.6 Q321.9,702.6 321.9,705 L321.9,721 Q321.9,723.5 319.4,723.5 L296.4,723.5" stroke-width="1.9" />
<path d="M300.2,702.6 L300.2,723.5" stroke-width="2.6" />
<path d="M314.4,702.6 L314.4,723.5" stroke-width="1.9" />
<rect x="304.2" y="715.6" width="5.2" height="6" fill="none" stroke-width="1.3"/>
<path d="M267.4,867.4 L297.6,867.4 L297.6,907 L267.4,907 Z" stroke-width="1.9" />
<path d="M267.2,875.2 L297.8,875.2" stroke-width="1.9" />
<path d="M267.2,902.6 L297.8,902.6" stroke-width="1.9" />
<path d="M270.2,876 L270.2,902" stroke-width="3.8" />
<path d="M294.6,876 L294.6,902" stroke-width="3.8" />
<rect x="272.6" y="876.2" width="8.4" height="25.4" rx="4" fill="#fff" stroke-width="1.6"/>
<path d="M273.4,880 L280.2,898 M280.2,880 L273.4,898" stroke-width="1.4" />
<path d="M273.2,879.4 L280.4,879.4" stroke-width="1.2" />
<path d="M273.2,898.6 L280.4,898.6" stroke-width="1.2" />
<rect x="283.4" y="876.2" width="8.4" height="25.4" rx="4" fill="#fff" stroke-width="1.6"/>
<path d="M284.2,880 L291,898 M291,880 L284.2,898" stroke-width="1.4" />
<path d="M284,879.4 L291.2,879.4" stroke-width="1.2" />
<path d="M284,898.6 L291.2,898.6" stroke-width="1.2" />
<path d="M282.2,876 L282.2,902" stroke-width="2.4" />
<rect x="258.4" y="907.2" width="48" height="26.8" rx="3.2" fill="none" stroke-width="2.1"/>
<path d="M270.2,908 L270.2,933.4" stroke-width="2.2" />
<path d="M294.2,908 L294.2,933.4" stroke-width="2.2" />
<path d="M270.2,909.2 Q282.2,906.6 294.2,909.2 M270.2,932.4 Q282.2,934.8 294.2,932.4" stroke-width="1.3" />
<path d="M158.6,933.8 L258.8,933.8" stroke-width="1.75" />
<path d="M163.5,533.7 L163.5,933.8" stroke-width="1.75" />
<polygon points="163.5,933.8 160.1,912 166.9,912" fill="#2b2521" stroke="#1d1815" stroke-width="0.8" stroke-linejoin="miter"/>
<polygon points="165.54,913 164.04,913 164,920.28" fill="#8d8781" stroke="none"/>
<polygon points="161.46,913 162.96,913 163,920.28" fill="#8d8781" stroke="none"/>
<polygon points="163.5,533.7 166.9,555.5 160.1,555.5" fill="#2b2521" stroke="#1d1815" stroke-width="0.8" stroke-linejoin="miter"/>
<polygon points="161.46,554.5 162.96,554.5 163,547.22" fill="#8d8781" stroke="none"/>
<polygon points="165.54,554.5 164.04,554.5 164,547.22" fill="#8d8781" stroke="none"/>
<g stroke-width="1.95" stroke-linecap="butt"><path transform="translate(159.1,742.1) rotate(-90) scale(1,1) translate(0,-21)" d="M0.4,3.9 A5.0,5.0 0 1 1 4.6,10.0 L5.3,10.0 A5.25,5.5 0 1 1 0,17.3" vector-effect="non-scaling-stroke"/><path transform="translate(159.1,726.6) rotate(-90) scale(1.04,1) translate(0,-21)" d="M0,6.3 L4.8,0 L4.8,21" vector-effect="non-scaling-stroke"/><path transform="translate(159.1,716.5) rotate(-90) scale(1.04,1) translate(0,-21)" d="M0,5.25 A5.25,5.25 0 0 1 10.5,5.25 L10.5,15.75 A5.25,5.25 0 0 1 0,15.75 Z" vector-effect="non-scaling-stroke"/></g>
<path d="M264.4,935 L264.4,969" stroke-width="1.75" />
<path d="M300.4,935 L300.4,969" stroke-width="1.75" />
<path d="M155.5,963.5 L343.8,963.5" stroke-width="1.75" />
<polygon points="264.4,963.5 242.6,966.9 242.6,960.1" fill="#2b2521" stroke="#1d1815" stroke-width="0.8" stroke-linejoin="miter"/>
<polygon points="243.6,961.46 243.6,962.96 250.88,963" fill="#8d8781" stroke="none"/>
<polygon points="243.6,965.54 243.6,964.04 250.88,964" fill="#8d8781" stroke="none"/>
<polygon points="300.4,963.5 322.2,960.1 322.2,966.9" fill="#2b2521" stroke="#1d1815" stroke-width="0.8" stroke-linejoin="miter"/>
<polygon points="321.2,965.54 321.2,964.04 313.92,964" fill="#8d8781" stroke="none"/>
<polygon points="321.2,961.46 321.2,962.96 313.92,963" fill="#8d8781" stroke="none"/>
<g stroke-width="1.95" stroke-linecap="butt"><path transform="translate(156.4,959.1) scale(0.98,0.97) translate(0,-21)" d="M12.2,5.4 A6.1,5.6 0 0 0 0,5.8 L0,15.2 A6.1,5.8 0 0 0 12.2,15.2 L12.2,11.2 L6.4,11.2" vector-effect="non-scaling-stroke"/><path transform="translate(187,959.1) scale(0.99,0.97) translate(0,-21)" d="M0.4,3.9 A5.0,5.0 0 1 1 4.6,10.0 L5.3,10.0 A5.25,5.5 0 1 1 0,17.3" vector-effect="non-scaling-stroke"/><path transform="translate(201.7,959.1) scale(1.06,0.97) translate(0,-21)" d="M8.6,0 L0,21" vector-effect="non-scaling-stroke"/><path transform="translate(212.8,959.1) scale(0.96,0.97) translate(0,-21)" d="M5.25,10.0 A4.7,5.0 0 1 1 5.26,10.0 Z M5.25,10.0 A5.25,5.5 0 1 0 5.26,10.0 Z" vector-effect="non-scaling-stroke"/><path transform="translate(229.6,959.1) scale(0.92,0.97) translate(0,-21)" d="M1.6,0.4 L0.6,6.2 M5.2,0.4 L4.2,6.2" vector-effect="non-scaling-stroke"/></g>
<path d="M295.6,831.6 L640,831.6" stroke-width="1.3" stroke-dasharray="15 1 1.6 1"/>
<path d="M628.4,826 L320.2,826 L320.2,837.2 L336,837.2 L336,838.6 M336,837.2 L628.4,837.2" stroke-width="1.5" />
<path d="M320.2,837.2 L320.2,897" stroke-width="1.75" />
<path d="M628.4,856.4 L628.4,897.4" stroke-width="1.75" />
<path d="M320.2,892.5 L628.4,892.5" stroke-width="1.75" />
<polygon points="320.2,892.5 342,889.1 342,895.9" fill="#2b2521" stroke="#1d1815" stroke-width="0.8" stroke-linejoin="miter"/>
<polygon points="341,894.54 341,893.04 333.72,893" fill="#8d8781" stroke="none"/>
<polygon points="341,890.46 341,891.96 333.72,892" fill="#8d8781" stroke="none"/>
<polygon points="628.4,892.5 606.6,895.9 606.6,889.1" fill="#2b2521" stroke="#1d1815" stroke-width="0.8" stroke-linejoin="miter"/>
<polygon points="607.6,890.46 607.6,891.96 614.88,892" fill="#8d8781" stroke="none"/>
<polygon points="607.6,894.54 607.6,893.04 614.88,893" fill="#8d8781" stroke="none"/>
<g stroke-width="1.95" stroke-linecap="butt"><path transform="translate(457,889) scale(1.04,1) translate(0,-21)" d="M0,6.3 L4.8,0 L4.8,21" vector-effect="non-scaling-stroke"/><path transform="translate(467,889) scale(0.96,1) translate(0,-21)" d="M7.6,0 L0,16.3 L10.8,16.3 M7.9,10.4 L7.9,21" vector-effect="non-scaling-stroke"/><path transform="translate(482.4,889) scale(0.99,1) translate(0,-21)" d="M9.8,0 L1.1,0 L0.6,9.3 C1.8,8.1 3.5,7.5 5.25,7.5 C8.3,7.5 10.5,10.3 10.5,14.3 C10.5,18.3 8.3,21 5.25,21 C2.8,21 0.8,19.6 0,17" vector-effect="non-scaling-stroke"/></g>
<g transform="translate(354.7,833.9) rotate(-7.2)">
<rect x="-15.3" y="-27" width="30.6" height="54" rx="1.5" fill="#fff" stroke="#55504b" stroke-width="3.6"/>
<rect x="-17" y="-28.6" width="34" height="57.2" rx="2.4" fill="none" stroke-width="1.4"/>
<rect x="-13.6" y="-25.2" width="27.2" height="50.4" rx="1.2" fill="none" stroke-width="1.4"/>
<path d="M-15.6,-26.6 L15.6,-26.6" stroke-width="3.8" />
<path d="M-15.6,26.6 L15.6,26.6" stroke-width="3.8" />
<path d="M-16.8,-27.6 C-15,-33.6 15,-33.6 16.8,-27.6" stroke-width="1.5" />
<path d="M-16.8,27.6 C-15,33.6 15,33.6 16.8,27.6" stroke-width="1.5" />
<path d="M-10.8,-13.4 L10.6,-13.4" stroke-width="1.5" />
<path d="M-9.8,13.6 L11.4,13.6" stroke-width="1.5" />
</g>
<path d="M336,831.6 L374,831.6" stroke-width="1.4" />
<path d="M347.2,815.2 L344.6,784.6 Q349.6,781 354.9,782.8 L358,814.2 C357.4,818.2 348.4,819 347.2,815.2 Z" stroke-width="1.7" fill="#fff"/>
<path d="M358.3,909.8 L352,854 C352.6,849.6 361.4,848.8 362.1,852.4 L368,907.6 Z" stroke-width="1.7" fill="#fff"/>
<path d="M357.8,859.5 L365,927.6" stroke-width="1.3" />
<path d="M342,892.5 L380,892.5" stroke-width="1.75" />
<path d="M656.8,601 L656.8,662" stroke-width="1.75" />
<path d="M791.8,601 L791.8,662" stroke-width="1.75" />
<path d="M656.8,605.8 L791.8,605.8" stroke-width="1.75" />
<polygon points="656.8,605.8 678.6,602.4 678.6,609.2" fill="#2b2521" stroke="#1d1815" stroke-width="0.8" stroke-linejoin="miter"/>
<polygon points="677.6,607.84 677.6,606.34 670.32,606.3" fill="#8d8781" stroke="none"/>
<polygon points="677.6,603.76 677.6,605.26 670.32,605.3" fill="#8d8781" stroke="none"/>
<polygon points="791.8,605.8 770,609.2 770,602.4" fill="#2b2521" stroke="#1d1815" stroke-width="0.8" stroke-linejoin="miter"/>
<polygon points="771,603.76 771,605.26 778.28,605.3" fill="#8d8781" stroke="none"/>
<polygon points="771,607.84 771,606.34 778.28,606.3" fill="#8d8781" stroke="none"/>
<g stroke-width="1.95" stroke-linecap="butt"><path transform="translate(702,596.1) scale(1.01,1) translate(0,-21)" d="M7.4,0.2 A7.3,10.3 0 1 1 7.39,0.2 Z M0.8,21.8 L14.2,-0.8" vector-effect="non-scaling-stroke"/><path transform="translate(727.7,596.1) scale(0.99,1) translate(0,-21)" d="M8.7,0 C6,3.4 0,10.2 0,15.6 A5.25,5.4 0 0 0 10.5,15.6 A5.25,5.4 0 0 0 1.1,12.1" vector-effect="non-scaling-stroke"/><path transform="translate(743.2,596.1) scale(1,1) translate(0,-21)" d="M0.4,3.9 A5.0,5.0 0 1 1 4.6,10.0 L5.3,10.0 A5.25,5.5 0 1 1 0,17.3" vector-effect="non-scaling-stroke"/></g>
<path d="M656.4,662.3 L792,662.3" stroke-width="3" />
<path d="M657,663.6 C663.5,664.4 668.5,667 672.4,671.6 M791.4,663.6 C785,664.4 780,667 776,671.6" stroke-width="1.6" />
<path d="M658.2,671.8 L790.4,671.8 L770.6,694.8 L677.6,694.8 Z" stroke-width="1.9" />
<path d="M681.1,694.9 L681.1,703 C681.1,705 683.9,706 683.9,708 L683.9,724 C683.9,726 681.1,727 681.1,729 L681.1,741.8" stroke-width="1.9" />
<path d="M679.5,741.8 L679.5,765.4" stroke-width="2.6" />
<path d="M767.1,694.9 L767.1,703 C767.1,705 764.3,706 764.3,708 L764.3,724 C764.3,726 767.1,727 767.1,729 L767.1,741.8" stroke-width="1.9" />
<path d="M768.7,741.8 L768.7,765.4" stroke-width="2.6" />
<path d="M678.7,741.8 L769.5,741.8" stroke-width="1.9" />
<rect x="708.2" y="704.2" width="32.4" height="25.2" rx="6.4" fill="none" stroke-width="1.9"/>
<path d="M717.4,704.2 L717.4,729.4" stroke-width="1.4" />
<path d="M730.8,704.2 L730.8,729.4" stroke-width="1.4" />
<path d="M724.1,639.4 L724.1,905.4" stroke-width="1.7" stroke-dasharray="16 0.9 1.8 0.9"/>
<path d="M792.4,663 L832.6,663" stroke-width="1.75" />
<path d="M769,765.5 L832.8,765.5" stroke-width="1.75" />
<path d="M827.6,437.6 L827.6,765.5" stroke-width="1.75" />
<polygon points="827.6,663 831,684.8 824.2,684.8" fill="#2b2521" stroke="#1d1815" stroke-width="0.8" stroke-linejoin="miter"/>
<polygon points="825.56,683.8 827.06,683.8 827.1,676.52" fill="#8d8781" stroke="none"/>
<polygon points="829.64,683.8 828.14,683.8 828.1,676.52" fill="#8d8781" stroke="none"/>
<polygon points="827.6,765.5 824.2,743.7 831,743.7" fill="#2b2521" stroke="#1d1815" stroke-width="0.8" stroke-linejoin="miter"/>
<polygon points="829.64,744.7 828.14,744.7 828.1,751.98" fill="#8d8781" stroke="none"/>
<polygon points="825.56,744.7 827.06,744.7 827.1,751.98" fill="#8d8781" stroke="none"/>
<g stroke-width="1.95" stroke-linecap="butt"><path transform="translate(823.6,648.3) rotate(-90) scale(1.05,1) translate(0,-21)" d="M0.4,3.9 A5.0,5.0 0 1 1 4.6,10.0 L5.3,10.0 A5.25,5.5 0 1 1 0,17.3" vector-effect="non-scaling-stroke"/><path transform="translate(823.6,632.9) rotate(-90) scale(1.02,1) translate(0,-21)" d="M5.25,10.0 A4.7,5.0 0 1 1 5.26,10.0 Z M5.25,10.0 A5.25,5.5 0 1 0 5.26,10.0 Z" vector-effect="non-scaling-stroke"/><path transform="translate(823.6,602.7) rotate(-90) scale(0.92,1) translate(0,-21)" d="M0,6.1 L0,21 M0,11 A4.05,4.5 0 0 1 8.1,10.6 L8.1,21 M8.1,10.6 A4.05,4.5 0 0 1 16.2,10.6 L16.2,21" vector-effect="non-scaling-stroke"/><path transform="translate(823.6,585.2) rotate(-90) scale(1,1) translate(0,-21)" d="M0.9,6.1 L0.9,21 M0.9,-0.1 L0.9,1.9" vector-effect="non-scaling-stroke"/><path transform="translate(823.6,579.9) rotate(-90) scale(1.04,1) translate(0,-21)" d="M0,6.1 L0,21 M0,11.3 A4.8,4.8 0 0 1 9.6,10.9 L9.6,21" vector-effect="non-scaling-stroke"/><path transform="translate(823.6,552.8) rotate(-90) scale(1.52,1) translate(0,-21)" d="M0,12.4 L6.2,12.4" vector-effect="non-scaling-stroke"/><path transform="translate(823.6,528) rotate(-90) scale(0.94,1) translate(0,-21)" d="M7.6,0 L0,16.3 L10.8,16.3 M7.9,10.4 L7.9,21" vector-effect="non-scaling-stroke"/><path transform="translate(823.6,514.6) rotate(-90) scale(1.09,1) translate(0,-21)" d="M5.25,10.0 A4.7,5.0 0 1 1 5.26,10.0 Z M5.25,10.0 A5.25,5.5 0 1 0 5.26,10.0 Z" vector-effect="non-scaling-stroke"/><path transform="translate(823.6,481.6) rotate(-90) scale(0.96,1) translate(0,-21)" d="M0,6.1 L0,21 M0,11 A4.05,4.5 0 0 1 8.1,10.6 L8.1,21 M8.1,10.6 A4.05,4.5 0 0 1 16.2,10.6 L16.2,21" vector-effect="non-scaling-stroke"/><path transform="translate(823.6,462.5) rotate(-90) scale(1.01,1) translate(0,-21)" d="M10.8,6.1 L10.8,21 M10.8,11.3 A5.4,5.2 0 0 0 0,11.3 L0,15.8 A5.4,5.2 0 0 0 10.8,15.8" vector-effect="non-scaling-stroke"/><path transform="translate(823.6,447.6) rotate(-90) scale(0.96,1) translate(0,-21)" d="M0,6.1 L9.6,21 M9.6,6.1 L0,21" vector-effect="non-scaling-stroke"/></g>
<path d="M662.4,765.6 L785.8,765.6 Q791.6,765.6 791.6,771.2 Q791.6,776.8 785.8,776.8 L662.4,776.8 Q656.6,776.8 656.6,771.2 Q656.6,765.6 662.4,765.6 Z" stroke-width="1.9" />
<path d="M660.4,776.8 L660.4,779.4 Q660.4,781 662,781 L786.4,781 Q788,781 788,779.4 L788,776.8" stroke-width="1.5" />
<path d="M673.6,782.4 L775.6,782.4" stroke-width="2.6" />
<path d="M673.7,782.4 C675.1,785 675.7,786 676.1,788.2 L677.7,800.2" stroke-width="1.9" />
<path d="M774.5,782.4 C773.1,785 772.5,786 772.1,788.2 L770.5,800.2" stroke-width="1.9" />
<path d="M676.1,788.2 L772.1,788.2" stroke-width="1.9" />
<path d="M677.7,800.2 L770.5,800.2" stroke-width="1.9" />
<path d="M771.2,800.2 L771.2,855.4 C771.2,857.4 770.2,858.4 768.8,859" stroke-width="1.9" />
<path d="M677.6,800.2 L677.6,809.3 M677.6,853.9 L677.6,855.4 C677.6,857.4 678.4,858.4 679.4,859" stroke-width="1.9" />
<path d="M679.2,857.5 L768.8,857.5" stroke-width="1.5" />
<path d="M679.2,860.1 L768.8,860.1" stroke-width="2.6" />
<path d="M681.3,860 L681.3,883" stroke-width="3.2" stroke="#332e2a"/>
<path d="M767.2,860 L767.2,883" stroke-width="3.2" stroke="#332e2a"/>
<path d="M679.8,881.8 L768.8,881.8" stroke-width="3.2" stroke="#332e2a"/>
<path d="M677.4,809.3 L659.8,809.3 M677.4,853.9 L659.8,853.9" stroke-width="1.9" />
<path d="M677.4,809.3 C685.8,820 685.8,843 677.4,853.9" stroke-width="1.9" />
<path d="M661,809.3 L661,853.9" stroke-width="2.4" />
<rect x="628.7" y="807.3" width="21.8" height="49" rx="2" fill="#fff" stroke-width="1.7"/>
<path d="M631.2,808 L631.2,855.6" stroke-width="4.4" stroke="#3f3935"/>
<path d="M629,808.7 L650.4,808.7" stroke-width="2.8" stroke="#4a4541"/>
<path d="M629,854.9 L650.4,854.9" stroke-width="2.8" stroke="#4a4541"/>
<path d="M633,816.9 L650.4,816.9" stroke-width="2.5" />
<path d="M633,846.2 L650.4,846.2" stroke-width="2.5" />
<path d="M633,826.6 L650.4,826.6" stroke-width="1.6" />
<path d="M633,836.2 L650.4,836.2" stroke-width="1.6" />
<rect x="650.4" y="803.2" width="8.9" height="56.4" rx="4.45" fill="#fff" stroke-width="1.9"/>
<path d="M626,831.6 L698.6,831.6" stroke-width="1.3" />
<path d="M679.9,883 L679.9,949.2" stroke-width="1.75" />
<path d="M768.8,883 L768.8,949.2" stroke-width="1.75" />
<path d="M679.9,944.7 L768.8,944.7" stroke-width="1.75" />
<polygon points="679.9,944.7 701.7,941.3 701.7,948.1" fill="#2b2521" stroke="#1d1815" stroke-width="0.8" stroke-linejoin="miter"/>
<polygon points="700.7,946.74 700.7,945.24 693.42,945.2" fill="#8d8781" stroke="none"/>
<polygon points="700.7,942.66 700.7,944.16 693.42,944.2" fill="#8d8781" stroke="none"/>
<polygon points="768.8,944.7 747,948.1 747,941.3" fill="#2b2521" stroke="#1d1815" stroke-width="0.8" stroke-linejoin="miter"/>
<polygon points="748,942.66 748,944.16 755.28,944.2" fill="#8d8781" stroke="none"/>
<polygon points="748,946.74 748,945.24 755.28,945.2" fill="#8d8781" stroke="none"/>
<g stroke-width="1.95" stroke-linecap="butt"><path transform="translate(690.3,934) scale(1,1.01) translate(0,-21)" d="M12.2,5.4 A6.1,5.6 0 0 0 0,5.8 L0,15.2 A6.1,5.8 0 0 0 12.2,15.2 L12.2,11.2 L6.4,11.2" vector-effect="non-scaling-stroke"/><path transform="translate(707.8,934) scale(0.98,1.01) translate(0,-21)" d="M0,6.3 L4.8,0 L4.8,21" vector-effect="non-scaling-stroke"/><path transform="translate(717.4,934) scale(1,1.01) translate(0,-21)" d="M0.8,0 L0.5,5.4 M3.3,0 L3.0,5.4" vector-effect="non-scaling-stroke"/><path transform="translate(725.6,934) scale(1.13,1.01) translate(0,-21)" d="M0,6.3 L4.8,0 L4.8,21" vector-effect="non-scaling-stroke"/><path transform="translate(735.8,934) scale(0.92,1.01) translate(0,-21)" d="M8.6,0 L0,21" vector-effect="non-scaling-stroke"/><path transform="translate(747,934) scale(0.93,1.01) translate(0,-21)" d="M7.6,0 L0,16.3 L10.8,16.3 M7.9,10.4 L7.9,21" vector-effect="non-scaling-stroke"/></g>
<path d="M769,861.5 L826.8,861.5" stroke-width="1.75" />
<path d="M769,882.9 L826.8,882.9" stroke-width="1.75" />
<path d="M822.2,818.5 L822.2,926" stroke-width="1.75" />
<polygon points="822.2,861.5 818.8,839.7 825.6,839.7" fill="#2b2521" stroke="#1d1815" stroke-width="0.8" stroke-linejoin="miter"/>
<polygon points="824.24,840.7 822.74,840.7 822.7,847.98" fill="#8d8781" stroke="none"/>
<polygon points="820.16,840.7 821.66,840.7 821.7,847.98" fill="#8d8781" stroke="none"/>
<polygon points="822.2,882.9 825.6,904.7 818.8,904.7" fill="#2b2521" stroke="#1d1815" stroke-width="0.8" stroke-linejoin="miter"/>
<polygon points="820.16,903.7 821.66,903.7 821.7,896.42" fill="#8d8781" stroke="none"/>
<polygon points="824.24,903.7 822.74,903.7 822.7,896.42" fill="#8d8781" stroke="none"/>
<g stroke-width="1.95" stroke-linecap="butt"><path transform="translate(810.9,917.3) rotate(-90) scale(0.96,1) translate(0,-21)" d="M0,6.3 L4.8,0 L4.8,21" vector-effect="non-scaling-stroke"/><path transform="translate(810.9,907.2) rotate(-90) scale(1.03,1) translate(0,-21)" d="M0,5.25 A5.25,5.25 0 0 1 10.5,5.25 L10.5,15.75 A5.25,5.25 0 0 1 0,15.75 Z" vector-effect="non-scaling-stroke"/></g>
</g>
</svg>
</body>
</html>
